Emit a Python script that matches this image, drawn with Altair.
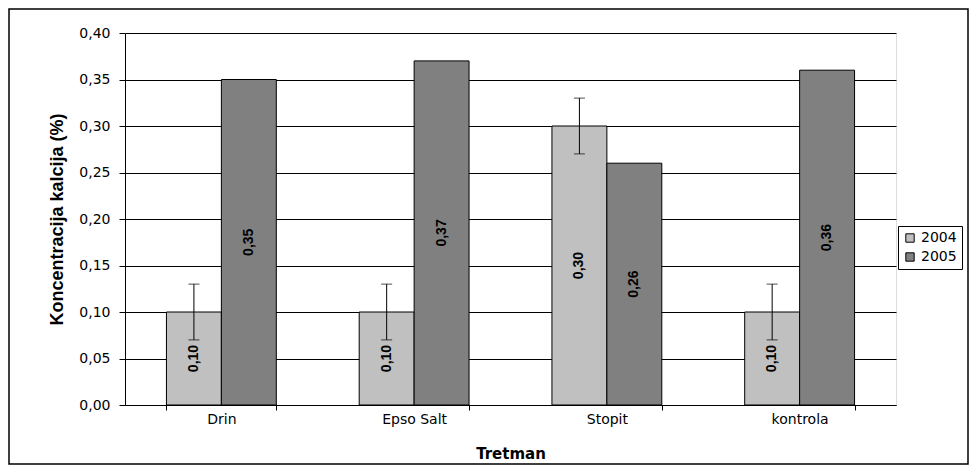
import altair as alt
import pandas as pd

categories = ["Drin", "Epso Salt", "Stopit", "kontrola"]
years = ["2004", "2005"]
values_2004 = [0.10, 0.10, 0.30, 0.10]
values_2005 = [0.35, 0.37, 0.26, 0.36]
err_2004 = [0.03, 0.03, 0.03, 0.03]

rows = []
for i, c in enumerate(categories):
    rows.append({"Tretman": c, "Godina": "2004", "v": values_2004[i], "err": err_2004[i]})
    rows.append({"Tretman": c, "Godina": "2005", "v": values_2005[i], "err": None})
df = pd.DataFrame(rows)
df["label"] = df["v"].map(lambda v: f"{v:.2f}".replace(".", ","))
df["mid"] = df["v"] / 2
df["lo"] = df["v"] - df["err"]
df["hi"] = df["v"] + df["err"]

FONT = "DejaVu Sans"

x_enc = alt.X("Tretman:N", sort=categories,
              scale=alt.Scale(paddingInner=0.43, paddingOuter=0.215),
              axis=alt.Axis(title="Tretman", labelAngle=0, tickBand="extent",
                            labelFont=FONT, labelFontSize=14, labelPadding=2,
                            titleFont=FONT, titleFontSize=15, titleFontWeight="bold",
                            titlePadding=20, domainColor="black", tickColor="black",
                            tickSize=5, labelColor="black", titleColor="black"))
xo_enc = alt.XOffset("Godina:N", sort=years, scale=alt.Scale(paddingInner=0, paddingOuter=0))
y_scale = alt.Scale(domain=[0, 0.4])

bars = alt.Chart(df).mark_bar(stroke="black", strokeWidth=1).encode(
    x=x_enc,
    xOffset=xo_enc,
    y=alt.Y("v:Q", scale=y_scale,
            axis=alt.Axis(title="Koncentracija kalcija (%)", values=[i * 0.05 for i in range(9)],
                          labelExpr="replace(format(datum.value, '.2f'), '.', ',')",
                          labelFont=FONT, labelFontSize=14, labelPadding=9,
                          titleFont="Liberation Sans Narrow, Liberation Sans", titleFontSize=18,
                          titleFontWeight="bold", titlePadding=12,
                          grid=True, gridColor="black", gridOpacity=1, gridWidth=1,
                          domainColor="black", tickColor="black", tickSize=6,
                          labelColor="black", titleColor="black")),
    color=alt.Color("Godina:N", sort=years,
                    scale=alt.Scale(domain=years, range=["#C0C0C0", "#808080"]),
                    legend=alt.Legend(title=None, orient="none", legendX=773, legendY=193,
                                      symbolType="square", symbolSize=70,
                                      symbolStrokeColor="black", symbolStrokeWidth=1,
                                      labelFont=FONT, labelFontSize=14, labelColor="black",
                                      strokeColor="black", padding=5, rowPadding=5,
                                      fillColor="white")),
)

errdf = df[df["Godina"] == "2004"]
err_rule = alt.Chart(errdf).mark_rule(color="black", strokeWidth=1).encode(
    x=alt.X("Tretman:N", sort=categories), xOffset=xo_enc,
    y=alt.Y("lo:Q", scale=y_scale), y2="hi:Q")
cap_lo = alt.Chart(errdf).mark_tick(color="black", orient="horizontal", size=11, thickness=1).encode(
    x=alt.X("Tretman:N", sort=categories), xOffset=xo_enc, y=alt.Y("lo:Q", scale=y_scale))
cap_hi = alt.Chart(errdf).mark_tick(color="black", orient="horizontal", size=11, thickness=1).encode(
    x=alt.X("Tretman:N", sort=categories), xOffset=xo_enc, y=alt.Y("hi:Q", scale=y_scale))

labels = alt.Chart(df).mark_text(angle=270, font="Liberation Sans", fontSize=14,
                                 fontWeight="bold", color="black",
                                 align="center", baseline="middle").encode(
    x=alt.X("Tretman:N", sort=categories), xOffset=xo_enc,
    y=alt.Y("mid:Q", scale=y_scale), text="label:N")

frame = alt.Chart(pd.DataFrame({"f": [0]})).mark_rect(
    fill=None, stroke="black", strokeWidth=1.5).encode(
    x=alt.value(-116), x2=alt.value(843), y=alt.value(-24), y2=alt.value(431))

chart = alt.layer(frame, bars, err_rule, cap_lo, cap_hi, labels).properties(
    width=771, height=372, padding=0
).configure_view(stroke="#808080").configure(background="white")

chart.save("out.html", embed_options={"renderer": "svg", "actions": False})
